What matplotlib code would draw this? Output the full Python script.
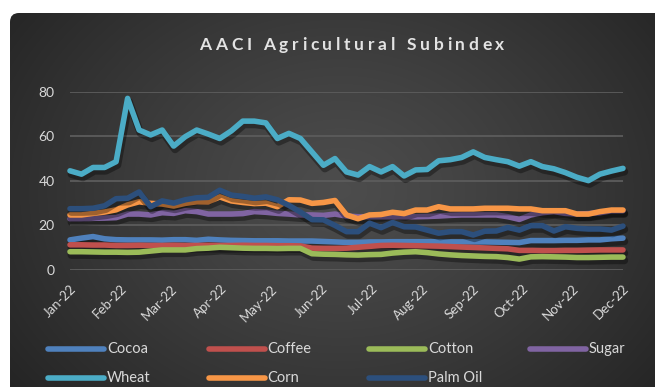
import numpy as np
import matplotlib
matplotlib.use('Agg')
import matplotlib.pyplot as plt
from matplotlib.patches import FancyBboxPatch
from matplotlib.lines import Line2D
import matplotlib.patheffects as pe

plt.rcParams['font.family'] = ['Lato', 'DejaVu Sans']

# ---------------- data (weekly index values) ----------------
months = ['Jan-22', 'Feb-22', 'Mar-22', 'Apr-22', 'May-22', 'Jun-22',
          'Jul-22', 'Aug-22', 'Sep-22', 'Oct-22', 'Nov-22', 'Dec-22']

cocoa = [13.5, 14.3, 15.0, 14.0, 13.6, 13.5, 13.5, 13.5, 13.4, 13.6, 13.6, 13.3, 13.8,
         13.5, 13.3, 13.2, 13.1, 13.1, 13.1, 13.0, 13.0, 13.0, 12.8, 12.6, 12.4, 12.4,
         12.6, 12.6, 12.7, 12.7, 12.7, 12.7, 12.7, 12.6, 12.6, 12.6, 12.6, 12.5, 12.4,
         12.3, 13.2, 13.2, 13.2, 13.3, 13.3, 13.5, 13.5, 14.0, 14.3]
coffee = [11.3, 11.3, 11.2, 11.2, 11.0, 11.0, 11.1, 11.0, 11.0, 11.1, 11.0, 11.0, 11.1,
          11.0, 11.0, 11.1, 11.0, 11.0, 10.9, 10.9, 10.8, 9.8, 9.7, 9.7, 9.8, 10.2,
          10.6, 11.0, 11.1, 11.0, 10.9, 10.8, 10.7, 10.5, 10.3, 10.1, 9.9, 9.7, 9.5,
          8.8, 8.8, 8.7, 8.7, 8.8, 8.8, 8.9, 9.0, 9.0, 9.0]
cotton = [8.2, 8.2, 8.1, 8.0, 8.0, 7.9, 8.0, 8.5, 9.0, 9.0, 9.0, 9.6, 9.8,
          10.2, 10.0, 9.8, 9.7, 9.7, 9.6, 9.7, 9.7, 7.3, 7.1, 7.0, 6.8, 6.7,
          6.9, 7.0, 7.6, 8.0, 8.2, 7.8, 7.2, 6.8, 6.5, 6.3, 6.1, 6.0, 5.6,
          4.9, 5.9, 6.0, 5.9, 5.8, 5.6, 5.6, 5.7, 5.8, 5.8]
sugar = [23.0, 23.0, 23.2, 23.3, 23.5, 25.1, 25.1, 24.7, 25.7, 25.4, 26.6, 26.2, 25.1,
         25.1, 25.1, 25.3, 26.2, 25.9, 25.4, 25.1, 24.7, 24.7, 24.5, 25.1, 24.2, 23.9,
         23.9, 23.9, 23.9, 23.9, 23.9, 24.0, 24.2, 24.5, 24.7, 24.7, 24.7, 24.7, 23.9,
         22.7, 24.7, 25.7, 26.2, 25.4, 25.1, 25.3, 25.7, 26.6, 26.6]
wheat = [44.5, 43.0, 46.0, 46.0, 48.6, 77.0, 62.8, 60.6, 62.8, 55.6, 59.8, 62.8, 61.0,
         59.0, 62.4, 66.8, 66.8, 66.0, 59.0, 61.3, 59.0, 53.0, 47.0, 50.0, 44.0, 42.6,
         46.4, 44.0, 46.4, 42.2, 44.9, 45.1, 49.0, 49.5, 50.5, 53.0, 50.5, 49.5, 48.6,
         46.6, 48.6, 46.4, 45.4, 43.7, 41.6, 40.1, 43.0, 44.4, 45.6]
corn = [24.7, 24.7, 25.4, 26.0, 27.0, 29.2, 30.6, 29.9, 29.6, 28.7, 29.9, 30.6, 30.6,
        32.8, 31.0, 30.3, 29.8, 30.0, 28.4, 31.5, 31.4, 29.9, 30.3, 31.2, 24.7, 23.0,
        24.7, 24.9, 25.9, 25.3, 26.9, 26.9, 28.4, 27.4, 27.4, 27.4, 27.7, 27.7, 27.7,
        27.4, 27.4, 26.6, 26.6, 26.6, 25.1, 25.1, 26.2, 26.9, 26.9]
palm_oil = [27.5, 27.5, 27.7, 28.8, 32.0, 32.2, 35.0, 28.4, 31.0, 30.0, 31.5, 32.4, 32.6,
            35.8, 33.6, 33.0, 32.2, 32.8, 31.5, 29.0, 26.0, 22.6, 22.5, 20.0, 17.2, 17.2,
            21.0, 19.0, 21.3, 19.4, 19.3, 17.9, 16.5, 17.2, 17.2, 15.7, 17.4, 17.5, 19.1,
            17.9, 19.9, 19.9, 17.5, 19.4, 18.7, 18.4, 18.4, 17.9, 19.7]

series_names = ['Cocoa', 'Coffee', 'Cotton', 'Sugar', 'Wheat', 'Corn', 'Palm Oil']
series_values = [cocoa, coffee, cotton, sugar, wheat, corn, palm_oil]
series_colors = ['#4f81bd', '#c0504d', '#9bbb59', '#8064a2', '#4bacc6', '#f79646', '#2c4f7c']
y_ticks = [0, 20, 40, 60, 80]

# ---------------- figure ----------------
W, H = 655, 387
fig = plt.figure(figsize=(W / 100, H / 100), dpi=100)
fig.patch.set_facecolor('white')

# dark radial-gradient panel
bg = fig.add_axes([0, 0, 1, 1], zorder=-10)
bg.set_xlim(0, W)
bg.set_ylim(H, 0)
bg.axis('off')
yy, xx = np.mgrid[0:H, 0:W]
d = np.sqrt(((xx - 340) / 420.0) ** 2 + ((yy - 190) / 330.0) ** 2)
v = np.clip(0.30 - 0.16 * d ** 1.2, 0.13, 0.30)
img = np.dstack([v, v, v])
im = bg.imshow(img, extent=(0, W, H, 0), interpolation='bilinear', zorder=0)
panel = FancyBboxPatch((10, 13), W - 10 + 20, H - 13 + 20,
                       boxstyle='round,pad=0,rounding_size=9',
                       transform=bg.transData, facecolor='none', edgecolor='none')
bg.add_patch(panel)
im.set_clip_path(panel)

# plotting area
x0, x1, ytop, ybot = 70, 623, 91.7, 270
ax = fig.add_axes([x0 / W, 1 - ybot / H, (x1 - x0) / W, (ybot - ytop) / H])
ax.patch.set_alpha(0)
for s in ax.spines.values():
    s.set_visible(False)

n = len(wheat)
x = np.arange(n)
ax.set_xlim(0, n - 1)
ax.set_ylim(0, 80)
ax.set_yticks(y_ticks)
ax.yaxis.grid(True, color='#5c5c5c', linewidth=1.3)
ax.set_axisbelow(True)
ax.tick_params(axis='y', length=0, pad=11, labelsize=10, labelcolor='#d9d9d9')

xt = np.linspace(0, n - 1, len(months))
ax.set_xticks(xt)
ax.set_xticklabels(months, rotation=45, ha='right', va='top', rotation_mode='anchor')
ax.tick_params(axis='x', length=0, pad=9, labelsize=9.5, labelcolor='#d9d9d9')

shadow = [pe.SimpleLineShadow(offset=(1.0, -2.4), shadow_color='black', alpha=0.35,
                              linewidth=5.5),
          pe.Normal()]
lw = 4.0
for name, vals, col in zip(series_names, series_values, series_colors):
    ax.plot(x, vals, color=col, linewidth=lw, solid_joinstyle='round',
            solid_capstyle='round', clip_on=False, path_effects=shadow)

# ---------------- title with letter spacing ----------------
renderer = fig.canvas.get_renderer()
title = 'AACI Agricultural Subindex'
tkw = dict(fontsize=12.5, fontweight='bold', color='#e3e3e3')


def char_w(ch):
    a = fig.text(0, 0, '|' + ch + '|', **tkw)
    b = fig.text(0, 0, '||', **tkw)
    w = a.get_window_extent(renderer).width - b.get_window_extent(renderer).width
    a.remove()
    b.remove()
    return w


widths = [char_w(c) for c in title]
total = 305.0
track = (total - sum(widths)) / (len(title) - 1)
cx = 352.0
xpos = cx - total / 2
for c, w in zip(title, widths):
    fig.text(xpos / W, 1 - 45 / H, c, ha='left', va='center', **tkw)
    xpos += w + track

# ---------------- legend (manual, Excel-like even columns) ----------------
rows_y = [349, 378]
col_x = [48, 208.5, 369, 529.5]
order = [(0, 0), (0, 1), (0, 2), (0, 3), (1, 0), (1, 1), (1, 2)]
for (r, c), name, col in zip(order, series_names, series_colors):
    yl = 1 - rows_y[r] / H
    xs = col_x[c]
    fig.add_artist(Line2D([xs / W, (xs + 56) / W], [yl, yl], color=col,
                          linewidth=lw, solid_capstyle='round',
                          transform=fig.transFigure))
    fig.text((xs + 59) / W, yl, name, ha='left', va='center', fontsize=10.5,
             color='#d9d9d9')

fig.savefig('out.png', dpi=100, facecolor=fig.get_facecolor())
